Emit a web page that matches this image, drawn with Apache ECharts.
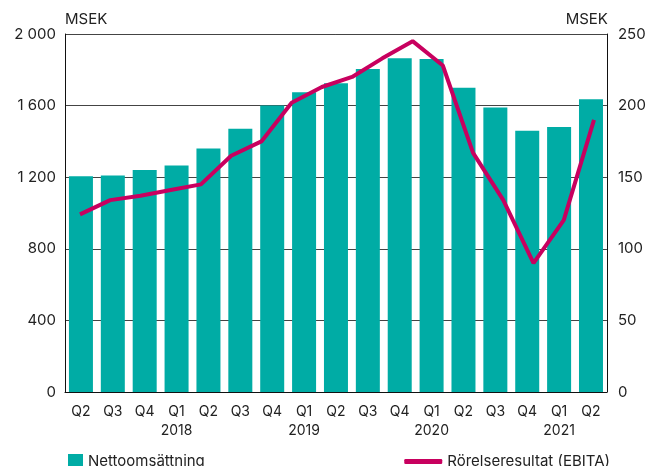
<!DOCTYPE html>
<html>
<head>
<meta charset="utf-8">
<script src="https://cdn.jsdelivr.net/npm/echarts@6/dist/echarts.min.js"></script>
<style>
  body { margin: 0; background: #fff; }
  #chart { width: 649px; height: 466px; }
</style>
</head>
<body>
<div id="chart"></div>
<script>
// kvartal, nettoomsättning (vänster axel)
const quarters = ['Q2', 'Q3', 'Q4', 'Q1\n2018', 'Q2', 'Q3', 'Q4', 'Q1\n2019', 'Q2', 'Q3', 'Q4', 'Q1\n2020', 'Q2', 'Q3', 'Q4', 'Q1\n2021', 'Q2']
const netSales = [1205, 1210, 1240, 1265, 1360, 1470, 1600, 1675, 1725, 1805, 1865, 1860, 1700, 1590, 1460, 1480, 1635]
// EBITA-linjen (höger axel), 18 punkter i originalet
const ebitaPoints = ['p1', 'p2', 'p3', 'p4', 'p5', 'p6', 'p7', 'p8', 'p9', 'p10', 'p11', 'p12', 'p13', 'p14', 'p15', 'p16', 'p17', 'p18']
const ebita = [124, 134, 137, 141, 145, 165, 175, 202, 213, 220, 233, 245, 228, 167, 134, 90, 120, 190]
const leftTicks = [0, 2000, 400]
const rightTicks = [0, 250, 50]

const font = 'Inter, "Noto Sans", sans-serif'
const chart = echarts.init(document.getElementById('chart'))

chart.setOption({
  animation: false,
  textStyle: { fontFamily: font },
  grid: [
    { left: 65, right: 40, top: 34, bottom: 74 },
    { left: 80, right: 55, top: 34, bottom: 74 } // linjen har egen x-skala
  ],
  legend: [{
    left: 63,
    top: 449,
    itemWidth: 15,
    itemHeight: 15,
    itemGap: 4,
    textStyle: { fontSize: 15, color: '#222', fontFamily: font },
    data: [{ name: 'Nettoomsättning', icon: 'rect' }]
  }, {
    right: 34,
    top: 449,
    itemWidth: 38,
    itemHeight: 5,
    textStyle: { fontSize: 15, color: '#222', fontFamily: font },
    data: [{ name: 'Rörelseresultat (EBITA)', icon: 'roundRect' }]
  }],
  xAxis: [{
    type: 'category',
    gridIndex: 0,
    data: quarters,
    axisLine: { lineStyle: { color: '#111' } },
    axisTick: { show: false },
    axisLabel: { color: '#222', fontSize: 14, margin: 10, lineHeight: 19, interval: 0 }
  }, {
    type: 'category',
    gridIndex: 1,
    data: ebitaPoints,
    boundaryGap: false,
    show: false
  }],
  yAxis: [{
    type: 'value',
    gridIndex: 0,
    min: leftTicks[0],
    max: leftTicks[1],
    interval: leftTicks[2],
    name: 'MSEK',
    nameLocation: 'end',
    nameGap: 7,
    nameTextStyle: { color: '#222', fontSize: 15, align: 'left', padding: [0, 0, 0, 0] },
    axisLine: { show: true, lineStyle: { color: '#111' } },
    axisTick: { show: false },
    axisLabel: {
      color: '#222', fontSize: 15, margin: 9,
      formatter: v => String(v).replace(/\B(?=(\d{3})+(?!\d))/g, ' ')
    },
    splitLine: { lineStyle: { color: '#444', width: 1 } }
  }, {
    type: 'value',
    gridIndex: 0,
    position: 'right',
    min: rightTicks[0],
    max: rightTicks[1],
    interval: rightTicks[2],
    name: 'MSEK',
    nameLocation: 'end',
    nameGap: 7,
    nameTextStyle: { color: '#222', fontSize: 15, align: 'right', padding: [0, -1, 0, 0] },
    axisLine: { show: true, lineStyle: { color: '#111' } },
    axisTick: { show: false },
    axisLabel: { color: '#222', fontSize: 15, margin: 11 },
    splitLine: { show: false }
  }, {
    type: 'value',
    gridIndex: 1,
    min: rightTicks[0],
    max: rightTicks[1],
    show: false
  }],
  series: [{
    name: 'Nettoomsättning',
    type: 'bar',
    xAxisIndex: 0,
    yAxisIndex: 0,
    barWidth: 24,
    itemStyle: { color: '#00aca5' },
    data: netSales
  }, {
    name: 'Rörelseresultat (EBITA)',
    type: 'line',
    xAxisIndex: 1,
    yAxisIndex: 2,
    symbol: 'none',
    lineStyle: { color: '#c8005f', width: 4 },
    itemStyle: { color: '#c8005f' },
    data: ebita
  }]
})
</script>
</body>
</html>
